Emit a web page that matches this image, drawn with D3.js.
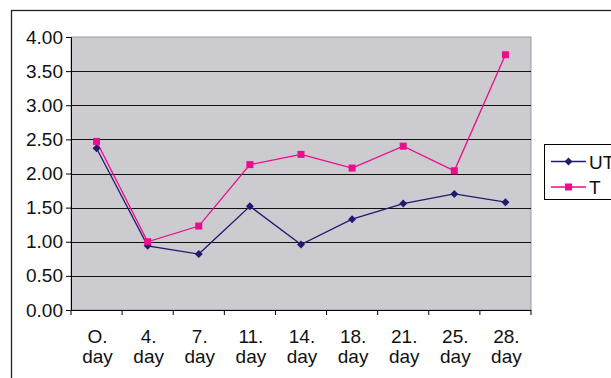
<!DOCTYPE html>
<html>
<head>
<meta charset="utf-8">
<script src="https://cdn.jsdelivr.net/npm/d3@7"></script>
<style>
  body { margin: 0; background: #fff; }
  svg { display: block; font-family: "Liberation Sans", Arial, sans-serif; }
</style>
</head>
<body>
<svg id="chart" width="611" height="378"></svg>
<script>
var categories = ["O. day", "4. day", "7. day", "11. day", "14. day", "18. day", "21. day", "25. day", "28. day"];
var utValues = [2.37, 0.94, 0.82, 1.52, 0.96, 1.33, 1.56, 1.70, 1.58];
var tValues = [2.47, 1.00, 1.23, 2.13, 2.28, 2.08, 2.40, 2.04, 3.74];
var yTicks = [0, 0.5, 1, 1.5, 2, 2.5, 3, 3.5, 4];
var seriesNames = ["UT", "T"];

var svg = d3.select("#chart");
var plotL = 71, plotR = 531, plotT = 37, plotB = 310;

// outer chart frame (cropped at right and bottom)
svg.append("rect")
  .attr("x", 11.5).attr("y", 10.5)
  .attr("width", 700).attr("height", 500)
  .attr("fill", "none").attr("stroke", "#222").attr("stroke-width", 1.3);

var x = d3.scaleBand().domain(categories).range([plotL, plotR]);
var y = d3.scaleLinear().domain([0, 4]).range([plotB, plotT]);

// plot area
svg.append("rect")
  .attr("x", plotL).attr("y", plotT)
  .attr("width", plotR - plotL).attr("height", plotB - plotT)
  .attr("fill", "#cbcbd0").attr("stroke", "#9a9a9e").attr("stroke-width", 1);

// gridlines
svg.append("g").selectAll("line")
  .data(yTicks.slice(1, -1))
  .enter().append("line")
    .attr("x1", plotL).attr("x2", plotR)
    .attr("y1", function(d) { return Math.round(y(d)) + 0.5; })
    .attr("y2", function(d) { return Math.round(y(d)) + 0.5; })
    .attr("stroke", "#111").attr("stroke-width", 1);

// y axis
var yAxis = svg.append("g")
  .attr("transform", "translate(" + plotL + ",0)")
  .call(d3.axisLeft(y).tickValues(yTicks).tickFormat(d3.format(".2f")).tickSize(5).tickPadding(3));
yAxis.select(".domain").attr("stroke", "#000");
yAxis.selectAll("line").attr("stroke", "#000");
yAxis.selectAll("text").attr("font-size", 19).attr("fill", "#111").attr("font-family", "Liberation Sans, Arial, sans-serif");

// x axis: ticks at category boundaries
var bounds = categories.map(function(c) { return x(c); }).concat([plotR]);
svg.append("line")
  .attr("x1", plotL).attr("x2", plotR).attr("y1", plotB + 0.5).attr("y2", plotB + 0.5)
  .attr("stroke", "#000");
svg.append("g").selectAll("line")
  .data(bounds)
  .enter().append("line")
    .attr("x1", function(d) { return d; }).attr("x2", function(d) { return d; })
    .attr("y1", plotB).attr("y2", plotB + 5)
    .attr("stroke", "#000");

var xl = svg.append("g").selectAll("text")
  .data(categories)
  .enter().append("text")
    .attr("x", function(d) { return x(d) + x.bandwidth() / 2 + 1; })
    .attr("y", 343)
    .attr("text-anchor", "middle")
    .attr("font-size", 19)
    .attr("fill", "#111");
xl.append("tspan").text(function(d) { return d.split(" ")[0]; });
xl.append("tspan")
  .attr("x", function(d) { return x(d) + x.bandwidth() / 2 + 1; })
  .attr("dy", 20)
  .text(function(d) { return d.split(" ")[1]; });

var cx = function(d, i) { return x(categories[i]) + x.bandwidth() / 2; };
var line = d3.line().x(cx).y(function(d) { return y(d); });

var utColor = "#211a6e", tColor = "#ec0c8c";

svg.append("path").datum(utValues)
  .attr("d", line).attr("fill", "none").attr("stroke", utColor).attr("stroke-width", 1.3);
svg.append("path").datum(tValues)
  .attr("d", line).attr("fill", "none").attr("stroke", tColor).attr("stroke-width", 1.3);

var diamond = d3.symbol().type(d3.symbolDiamond2).size(40);
svg.append("g").selectAll("path")
  .data(utValues)
  .enter().append("path")
    .attr("d", diamond)
    .attr("transform", function(d, i) { return "translate(" + cx(d, i) + "," + y(d) + ")"; })
    .attr("fill", utColor);

svg.append("g").selectAll("rect")
  .data(tValues)
  .enter().append("rect")
    .attr("x", function(d, i) { return cx(d, i) - 3.5; })
    .attr("y", function(d) { return y(d) - 3.5; })
    .attr("width", 7).attr("height", 7)
    .attr("fill", tColor);

// legend
svg.append("rect")
  .attr("x", 544.5).attr("y", 144.5).attr("width", 100).attr("height", 55)
  .attr("fill", "#fff").attr("stroke", "#000").attr("stroke-width", 1);

var legend = svg.append("g").selectAll("g")
  .data(seriesNames)
  .enter().append("g")
    .attr("transform", function(d, i) { return "translate(0," + (161.5 + i * 25.5) + ")"; });
legend.append("line")
  .attr("x1", 551).attr("x2", 586).attr("y1", 0).attr("y2", 0)
  .attr("stroke", function(d, i) { return i ? tColor : utColor; }).attr("stroke-width", 1.3);
legend.append("path")
  .attr("d", function(d, i) { return i ? d3.symbol().type(d3.symbolSquare).size(49)() : diamond(); })
  .attr("transform", "translate(568.5,0)")
  .attr("fill", function(d, i) { return i ? tColor : utColor; });
legend.append("text")
  .attr("x", 589).attr("y", 7)
  .attr("font-size", 19).attr("fill", "#111")
  .text(function(d) { return d; });
</script>
</body>
</html>
